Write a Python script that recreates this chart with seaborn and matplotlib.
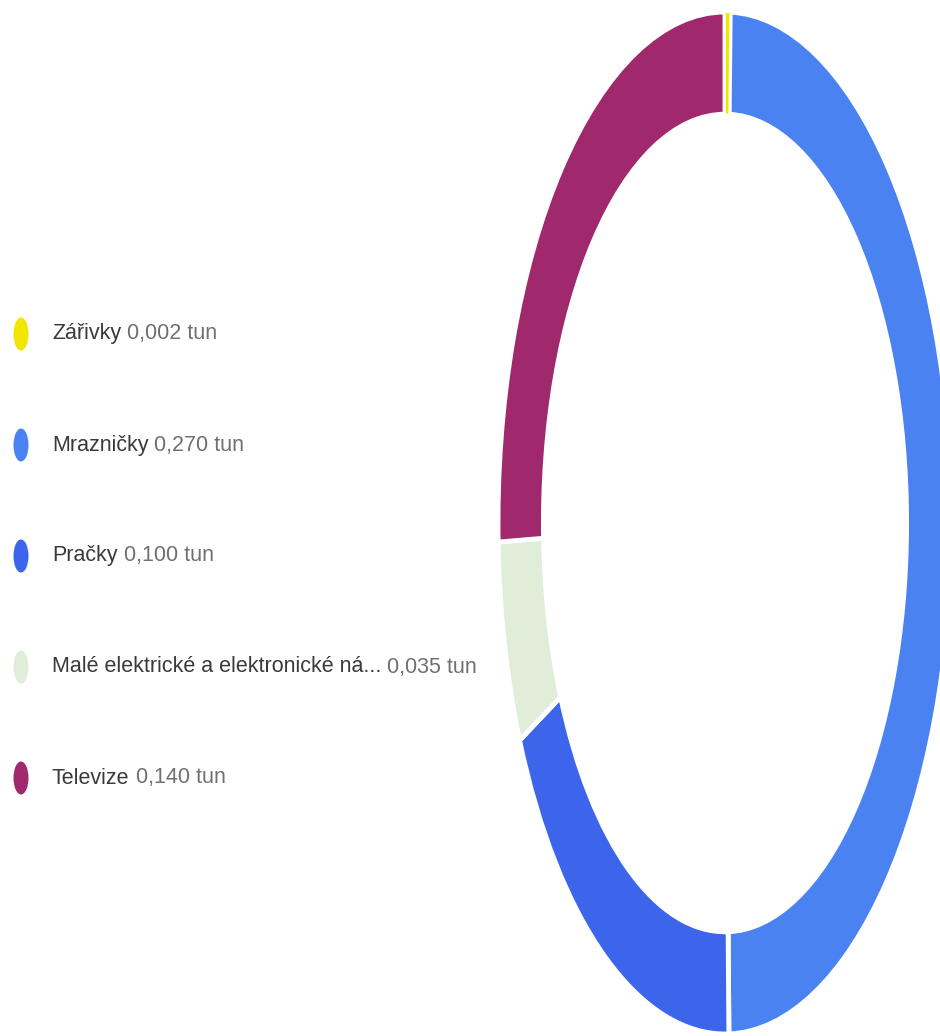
import matplotlib
matplotlib.use('Agg')
import matplotlib.pyplot as plt
import seaborn as sns
from matplotlib.patches import Ellipse

sns.set_theme(style='white')
plt.rcParams['font.family'] = ['Liberation Sans', 'DejaVu Sans']

names = ['Zářivky', 'Mrazničky', 'Pračky', 'Malé elektrické a elektronické ná...', 'Televize']
values = [0.002, 0.270, 0.100, 0.035, 0.140]
value_labels = ['0,002 tun', '0,270 tun', '0,100 tun', '0,035 tun', '0,140 tun']
colors = ['#F2E500', '#4B82F2', '#3C65EC', '#E0EED9', '#A0296D']

W, H = 940, 1036
fig = plt.figure(figsize=(W / 100, H / 100), dpi=100)

# donut, stretched (not circular) like the reference
left, right, top, bottom = 498, 952, 12, 1034
ax = fig.add_axes([left / W, 1 - bottom / H, (right - left) / W, (bottom - top) / H])
wedges, _ = ax.pie(values, colors=colors, startangle=90, counterclock=False, radius=1,
                   wedgeprops=dict(width=0.2, edgecolor='white', linewidth=3.5))
# keep the tiny slice visible
wedges[0].set_linewidth(1.2)
wedges[0].set_zorder(3)
ax.set_aspect('auto')
ax.set_xlim(-1, 1)
ax.set_ylim(-1, 1)
ax.axis('off')

# legend on the left, in pixel coordinates
lax = fig.add_axes([0, 0, 1, 1], zorder=-1)
lax.set_xlim(0, W)
lax.set_ylim(H, 0)
lax.axis('off')
y0, dy = 334, 111
for i, (n, v, c) in enumerate(zip(names, value_labels, colors)):
    y = y0 + i * dy
    lax.add_patch(Ellipse((21, y), 15, 33, color=c, lw=0))
    t = lax.text(52, y, n, fontsize=15.5, color='#3a3a3a', va='center', ha='left')
    lax.annotate(' ' + v, xy=(1, 0.5), xycoords=t, va='center', ha='left',
                 fontsize=15.5, color='#707070')

fig.savefig('out.png', dpi=100)
